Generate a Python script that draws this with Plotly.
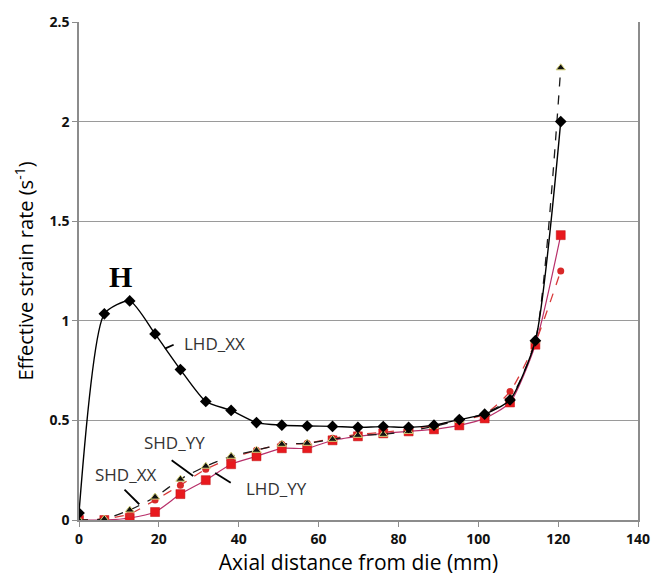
import plotly.graph_objects as go

# Axial positions of the sampling points (mm)
axial_mm = [0, 6.35, 12.7, 19.05, 25.4, 31.75, 38.1, 44.45, 50.8, 57.15,
            63.5, 69.85, 76.2, 82.55, 88.9, 95.25, 101.6, 107.95, 114.3, 120.65]

# Effective strain rate (1/s) for each case
lhd_xx = [0.035, 1.035, 1.10, 0.934, 0.755, 0.595, 0.55, 0.489, 0.476, 0.472,
          0.47, 0.465, 0.469, 0.465, 0.476, 0.504, 0.531, 0.603, 0.90, 2.0]
shd_xx = [0.0, 0.005, 0.05, 0.115, 0.205, 0.27, 0.32, 0.35, 0.38, 0.385,
          0.405, 0.425, 0.43, 0.445, 0.47, 0.50, 0.535, 0.61, 0.90, 2.27]
shd_yy = [0.0, 0.005, 0.03, 0.10, 0.175, 0.255, 0.31, 0.35, 0.38, 0.385,
          0.41, 0.43, 0.44, 0.455, 0.475, 0.50, 0.53, 0.645, 0.89, 1.25]
lhd_yy = [0.0, 0.0, 0.01, 0.04, 0.13, 0.20, 0.28, 0.32, 0.36, 0.36,
          0.40, 0.42, 0.435, 0.445, 0.455, 0.475, 0.51, 0.59, 0.88, 1.43]

x_ticks = [0, 20, 40, 60, 80, 100, 120, 140]
y_ticks = [0, 0.5, 1, 1.5, 2, 2.5]

# Series labels: (text, x, y) and their pointer lines (x0, y0, x1, y1)
labels = [("LHD_XX", 25.7, 0.884), ("SHD_YY", 15.8, 0.388),
          ("SHD_XX", 3.5, 0.226), ("LHD_YY", 41.2, 0.157)]
pointers = [(21.5, 0.86, 23.7, 0.88), (23.2, 0.30, 28.6, 0.221),
            (11.4, 0.152, 15.1, 0.079), (34.1, 0.236, 38.0, 0.187)]

FONT = "Open Sans"

fig = go.Figure()

fig.add_trace(go.Scatter(
    x=axial_mm, y=lhd_yy, name="LHD_YY", mode="lines+markers",
    line=dict(color="#b8306a", width=1.2, shape="spline", smoothing=0.6),
    marker=dict(symbol="square", size=9, color="#e8191e",
                line=dict(color="#c01010", width=0.5))))
fig.add_trace(go.Scatter(
    x=axial_mm, y=shd_yy, name="SHD_YY", mode="lines+markers",
    line=dict(color="#d83a3a", width=1.3, dash="dash", shape="spline", smoothing=0.6),
    marker=dict(symbol="circle", size=7, color="#d82828")))
fig.add_trace(go.Scatter(
    x=axial_mm, y=shd_xx, name="SHD_XX", mode="lines+markers",
    line=dict(color="#1a1a1a", width=1.3, dash="dash", shape="spline", smoothing=0.6),
    marker=dict(symbol="triangle-up", size=8, color="#111111",
                line=dict(color="#d6d27a", width=1))))
fig.add_trace(go.Scatter(
    x=axial_mm, y=lhd_xx, name="LHD_XX", mode="lines+markers",
    line=dict(color="#000000", width=1.4, shape="spline", smoothing=0.6),
    marker=dict(symbol="diamond", size=9, color="#000000")))

for text, lx, ly in labels:
    fig.add_annotation(x=lx, y=ly, text=text, showarrow=False, xanchor="left",
                       yanchor="middle", font=dict(family=FONT, size=17, color="#333333"))

for x0, y0, x1, y1 in pointers:
    fig.add_shape(type="line", x0=x0, y0=y0, x1=x1, y1=y1, xref="x", yref="y",
                  line=dict(color="#000000", width=1.8))

fig.add_annotation(x=10.3, y=1.22, text="<b>H</b>", showarrow=False,
                   font=dict(family="Liberation Serif", size=30, color="#000000"))

fig.update_layout(
    width=662, height=583,
    margin=dict(l=79, r=16, t=12, b=62),
    paper_bgcolor="white", plot_bgcolor="white",
    showlegend=False,
    font=dict(family=FONT, color="#000000"),
)

fig.update_xaxes(
    range=[0, 140], tickvals=x_ticks, ticktext=[str(v) for v in x_ticks],
    showgrid=False, zeroline=False,
    showline=True, linecolor="#8c8c8c", linewidth=1.5,
    ticks="outside", ticklen=5, tickcolor="#8c8c8c",
    tickfont=dict(family=FONT, size=14, color="#111111", weight="bold"),
    title=dict(text="Axial distance from die (mm)",
               font=dict(family=FONT, size=21, color="#000000"), standoff=9),
)
fig.update_yaxes(
    range=[0, 2.5], tickvals=y_ticks, ticktext=["0", "0.5", "1", "1.5", "2", "2.5"],
    showgrid=True, gridcolor="#9a9a9a", gridwidth=1.2, zeroline=False,
    showline=True, linecolor="#8c8c8c", linewidth=1.5, mirror=True,
    ticks="outside", ticklen=5, tickcolor="#8c8c8c",
    tickfont=dict(family=FONT, size=14, color="#111111", weight="bold"),
    title=dict(text="Effective strain rate (s<sup>-1</sup>)",
               font=dict(family=FONT, size=20, color="#000000"), standoff=10),
)

fig.write_html("out.html")
